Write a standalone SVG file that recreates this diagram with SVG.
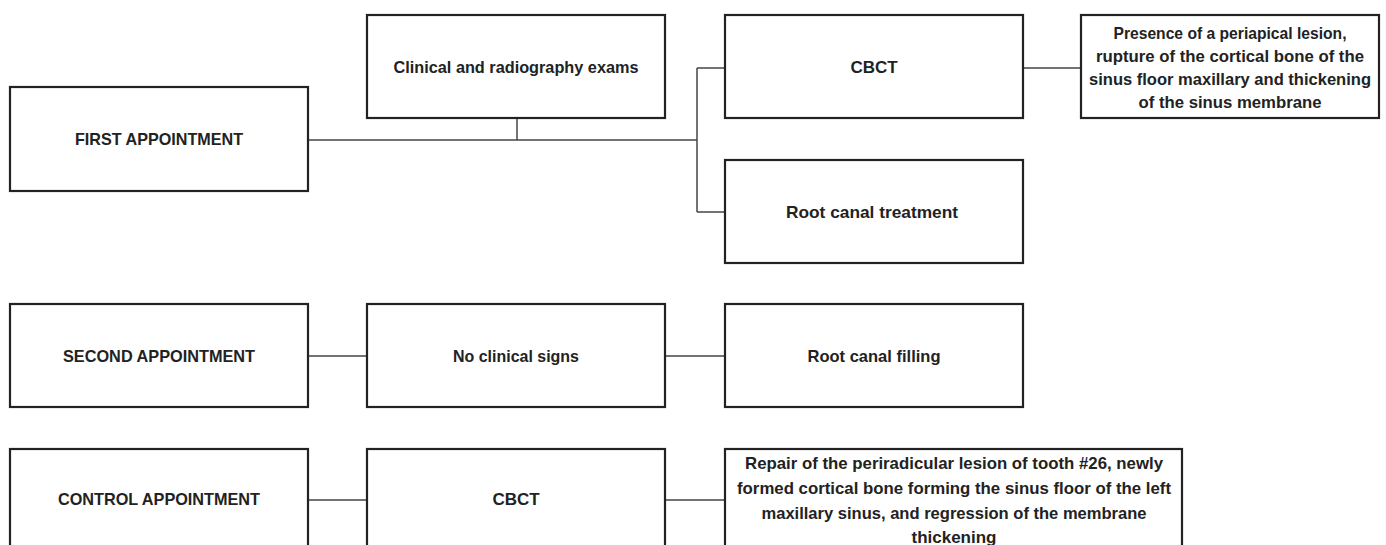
<svg xmlns="http://www.w3.org/2000/svg" width="1386" height="545" viewBox="0 0 1386 545">
<style>
  .box { fill: #fff; stroke: #222; stroke-width: 2.2; }
  .lbl { font-family: "Liberation Sans", Arial, sans-serif; font-weight: bold; font-size: 17px; fill: #222; text-anchor: middle; dominant-baseline: central; }
  .conn { fill: none; stroke: #444; stroke-width: 1.5; }
</style>
<rect width="1386" height="545" fill="#fff"/>
<g id="connectors">
  <path class="conn" d="M308 140 H697"/>
  <path class="conn" d="M517 118 V140"/>
  <path class="conn" d="M697 68 V212"/>
  <path class="conn" d="M697 68 H725"/>
  <path class="conn" d="M697 212 H725"/>
  <path class="conn" d="M1023 68 H1081"/>
  <path class="conn" d="M308 356 H367"/>
  <path class="conn" d="M665 356 H725"/>
  <path class="conn" d="M308 500 H367"/>
  <path class="conn" d="M665 500 H725"/>
</g>
<g id="first-appointment">
  <rect class="box" x="10" y="87" width="298" height="104"/>
  <text class="lbl" x="159" y="139" textLength="168" lengthAdjust="spacingAndGlyphs">FIRST APPOINTMENT</text>
</g>
<g id="clinical-exams">
  <rect class="box" x="367" y="15" width="298" height="103"/>
  <text class="lbl" x="516" y="67" textLength="245" lengthAdjust="spacingAndGlyphs">Clinical and radiography exams</text>
</g>
<g id="cbct-1">
  <rect class="box" x="725" y="15" width="298" height="103"/>
  <text class="lbl" x="874" y="67">CBCT</text>
</g>
<g id="presence-lesion">
  <rect class="box" x="1081" y="15" width="298" height="103"/>
  <text class="lbl" x="1230" y="33" textLength="233" lengthAdjust="spacingAndGlyphs">Presence of a periapical lesion,</text>
  <text class="lbl" x="1230" y="56" textLength="268" lengthAdjust="spacingAndGlyphs">rupture of the cortical bone of the</text>
  <text class="lbl" x="1230" y="79" textLength="282" lengthAdjust="spacingAndGlyphs">sinus floor maxillary and thickening</text>
  <text class="lbl" x="1230" y="102" textLength="183" lengthAdjust="spacingAndGlyphs">of the sinus membrane</text>
</g>
<g id="root-canal-treatment">
  <rect class="box" x="725" y="160" width="298" height="103"/>
  <text class="lbl" x="872" y="212" textLength="172" lengthAdjust="spacingAndGlyphs">Root canal treatment</text>
</g>
<g id="second-appointment">
  <rect class="box" x="10" y="304" width="298" height="103"/>
  <text class="lbl" x="159" y="356" textLength="192" lengthAdjust="spacingAndGlyphs">SECOND APPOINTMENT</text>
</g>
<g id="no-clinical-signs">
  <rect class="box" x="367" y="304" width="298" height="103"/>
  <text class="lbl" x="516" y="356" textLength="126" lengthAdjust="spacingAndGlyphs">No clinical signs</text>
</g>
<g id="root-canal-filling">
  <rect class="box" x="725" y="304" width="298" height="103"/>
  <text class="lbl" x="874" y="356" textLength="133" lengthAdjust="spacingAndGlyphs">Root canal filling</text>
</g>
<g id="control-appointment">
  <rect class="box" x="10" y="449" width="298" height="120"/>
  <text class="lbl" x="159" y="499" textLength="202" lengthAdjust="spacingAndGlyphs">CONTROL APPOINTMENT</text>
</g>
<g id="cbct-2">
  <rect class="box" x="367" y="449" width="298" height="120"/>
  <text class="lbl" x="516" y="499">CBCT</text>
</g>
<g id="repair-lesion">
  <rect class="box" x="725" y="449" width="457" height="120"/>
  <text class="lbl" x="954" y="463" textLength="418" lengthAdjust="spacingAndGlyphs">Repair of the periradicular lesion of tooth #26, newly</text>
  <text class="lbl" x="954" y="488" textLength="434" lengthAdjust="spacingAndGlyphs">formed cortical bone forming the sinus floor of the left</text>
  <text class="lbl" x="954" y="513" textLength="385" lengthAdjust="spacingAndGlyphs">maxillary sinus, and regression of the membrane</text>
  <text class="lbl" x="954" y="537">thickening</text>
</g>
</svg>
